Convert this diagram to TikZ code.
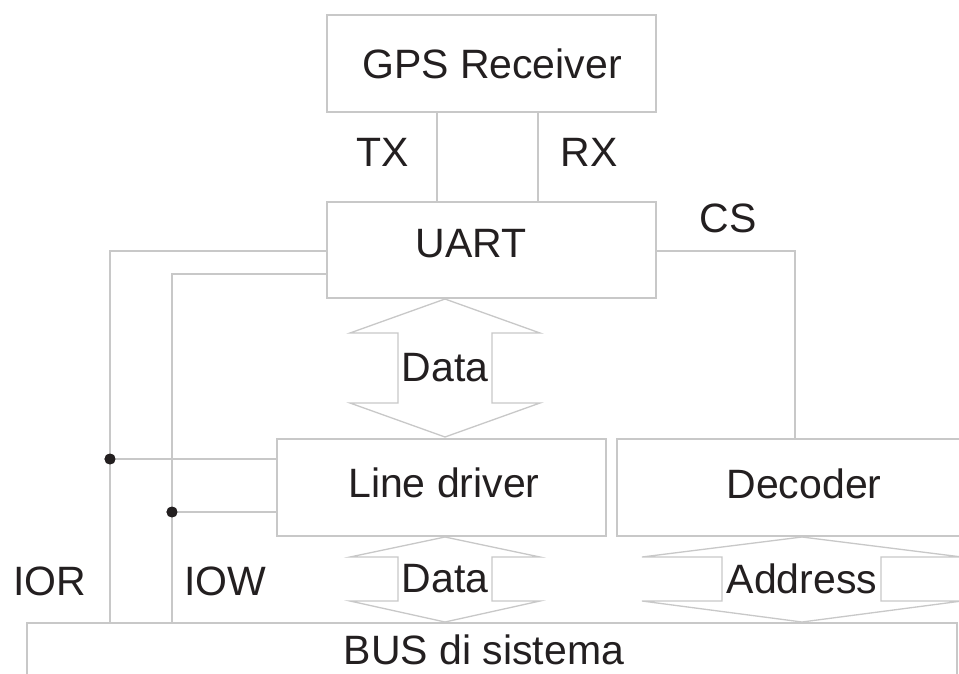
\documentclass[tikz,border=0pt]{standalone}
\usepackage{fontspec}
\setmainfont{Liberation Sans}
\definecolor{linegray}{HTML}{C8C8C8}
\definecolor{inkdark}{HTML}{231F20}
\tikzset{
  boxnode/.style={draw=linegray, line width=1.5pt, rectangle, inner sep=0pt, fill=none},
  wire/.style={draw=linegray, line width=1.5pt},
  lbl/.style={anchor=base, inner sep=0pt, text=inkdark, font=\fontsize{41}{49}\selectfont},
  dotnode/.style={circle, fill=inkdark, inner sep=0pt, minimum size=11pt},
  fatarrow/.style={draw=linegray, line width=1.3pt, line join=miter}
}
\begin{document}
\begin{tikzpicture}[x=1pt,y=-1pt]
\clip (0,0) rectangle (959,673);
\fill[white] (0,0) rectangle (959,673);

% boxes
\node[boxnode, minimum width=329pt, minimum height=97pt] (gps) at (491.5,63.5) {};
\node[boxnode, minimum width=329pt, minimum height=96pt] (uart) at (491.5,250) {};
\node[boxnode, minimum width=329pt, minimum height=97pt] (ld) at (441.5,487.5) {};
\node[boxnode, minimum width=360pt, minimum height=97pt] (dec) at (797,487.5) {};
\node[boxnode, minimum width=930pt, minimum height=80pt] (bus) at (492,663) {};

% labels
\node[lbl] (tgps) at (492,78) {GPS Receiver};
\node[lbl] (tuart) at (471,257) {UART};
\node[lbl] (tld) at (444,497) {Line driver};
\node[lbl] (tdec) at (804,498) {Decoder};
\node[lbl] (tbus) at (484,664) {BUS di sistema};
\node[lbl] (ttx) at (383,166) {TX};
\node[lbl] (trx) at (589,166) {RX};
\node[lbl] (tcs) at (728,232) {CS};
\node[lbl] (tior) at (50,595) {IOR};
\node[lbl] (tiow) at (225,595) {IOW};

% TX / RX wires
\draw[wire] (gps.south -| 437,0) -- (uart.north -| 437,0);
\draw[wire] (gps.south -| 538,0) -- (uart.north -| 538,0);

% CS wire
\coordinate (cscorner) at (795,251);
\draw[wire] (uart.east |- cscorner) -- (cscorner) -- (dec.north -| cscorner);

% IOR / IOW wires
\coordinate (iorcorner) at (110,251);
\coordinate (iowcorner) at (172,274);
\node[dotnode] (iordot) at (110,459) {};
\node[dotnode] (iowdot) at (172,512) {};
\draw[wire] (bus.north -| iorcorner) -- (iorcorner) -- (uart.west |- iorcorner);
\draw[wire] (bus.north -| iowcorner) -- (iowcorner) -- (uart.west |- iowcorner);
\draw[wire] (iordot.center) -- (ld.west |- iordot);
\draw[wire] (iowdot.center) -- (ld.west |- iowdot);
\node[dotnode] at (iordot) {};
\node[dotnode] at (iowdot) {};

% fat double arrows
\draw[fatarrow] (445,299) -- (350,333) -- (398,333) -- (398,403) -- (350,403) -- (445,437)
  -- (540,403) -- (492,403) -- (492,333) -- (540,333) -- cycle;
\node[lbl] (tdata1) at (445,381) {Data};

\draw[fatarrow] (445,537) -- (350,557) -- (398,557) -- (398,601) -- (350,601) -- (445,622)
  -- (540,601) -- (492,601) -- (492,557) -- (540,557) -- cycle;
\node[lbl] (tdata2) at (445,592) {Data};

\draw[fatarrow] (802,537) -- (642,557) -- (722,557) -- (722,601) -- (642,601) -- (802,622)
  -- (962,601) -- (881,601) -- (881,557) -- (962,557) -- cycle;
\node[lbl] (taddr) at (802,593) {Address};
\end{tikzpicture}
\end{document}
